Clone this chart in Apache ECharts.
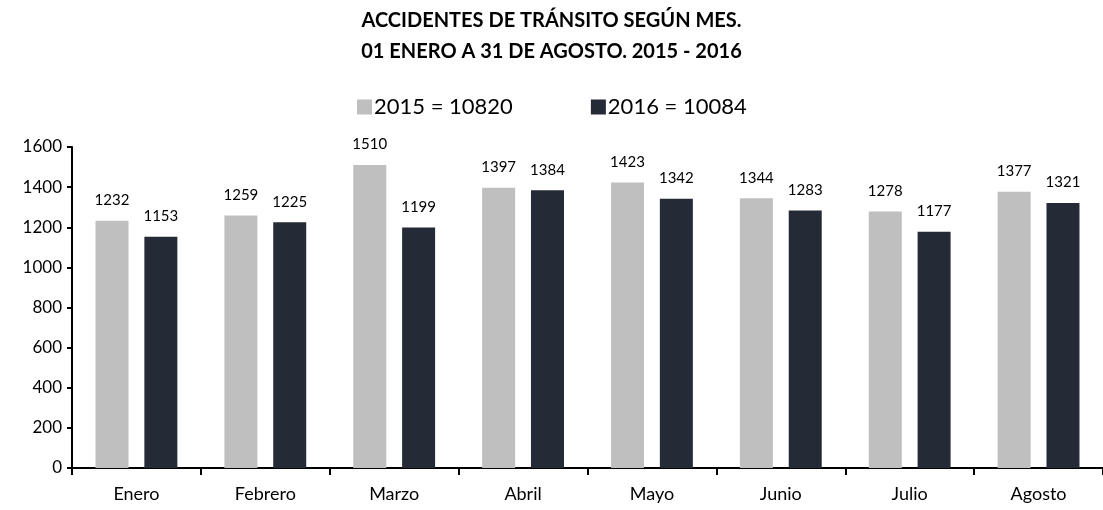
<!DOCTYPE html>
<html>
<head>
<meta charset="utf-8">
<script src="https://cdn.jsdelivr.net/npm/echarts@6/dist/echarts.min.js"></script>
<style>
  html, body { margin: 0; padding: 0; background: #fff; }
  #chart { width: 1103px; height: 510px; }
</style>
</head>
<body>
<div id="chart"></div>
<script>
const months = ['Enero', 'Febrero', 'Marzo', 'Abril', 'Mayo', 'Junio', 'Julio', 'Agosto']
const values2015 = [1232, 1259, 1510, 1397, 1423, 1344, 1278, 1377]
const values2016 = [1153, 1225, 1199, 1384, 1342, 1283, 1177, 1321]
const seriesNames = ['2015 = 10820', '2016 = 10084']
const titleLines = ['ACCIDENTES DE TRÁNSITO SEGÚN MES.', '01 ENERO A 31 DE AGOSTO. 2015 - 2016']

const font = 'Lato, "Open Sans", sans-serif'
const chart = echarts.init(document.getElementById('chart'))

const labelStyle = {
  show: true,
  position: 'top',
  distance: 13,
  color: '#000',
  fontSize: 15,
  fontFamily: font
}

chart.setOption({
  animation: false,
  backgroundColor: '#fff',
  title: {
    text: titleLines.join('\n'),
    left: 'center',
    top: 0,
    textStyle: {
      fontFamily: font,
      fontWeight: 'bold',
      fontSize: 20,
      lineHeight: 31,
      color: '#000'
    }
  },
  legend: {
    top: 91,
    left: 352,
    itemGap: 78,
    itemWidth: 15,
    itemHeight: 15,
    icon: 'rect',
    textStyle: { fontFamily: font, fontSize: 22, color: '#000', padding: [0, 0, 0, -3] },
    data: seriesNames
  },
  grid: { left: 72, right: -11, top: 147, bottom: 42, containLabel: false },
  xAxis: {
    type: 'category',
    data: months,
    axisLine: { lineStyle: { color: '#000', width: 2 } },
    axisTick: { show: true, length: 7, lineStyle: { color: '#000', width: 2 } },
    axisLabel: { fontFamily: font, fontSize: 18, color: '#000', margin: 17 }
  },
  yAxis: {
    type: 'value',
    min: 0,
    max: 1600,
    interval: 200,
    splitLine: { show: false },
    axisLine: { show: true, lineStyle: { color: '#000', width: 2 } },
    axisTick: { show: true, length: 5, lineStyle: { color: '#000', width: 2 } },
    axisLabel: { fontFamily: font, fontSize: 17, color: '#000', margin: 10, formatter: v => String(v) }
  },
  series: [
    {
      name: seriesNames[0],
      type: 'bar',
      data: values2015,
      barWidth: 33,
      barGap: '48%',
      itemStyle: { color: '#bfbfbf' },
      label: labelStyle
    },
    {
      name: seriesNames[1],
      type: 'bar',
      data: values2016,
      barWidth: 33,
      itemStyle: { color: '#252b36' },
      label: labelStyle
    }
  ]
})
</script>
</body>
</html>
